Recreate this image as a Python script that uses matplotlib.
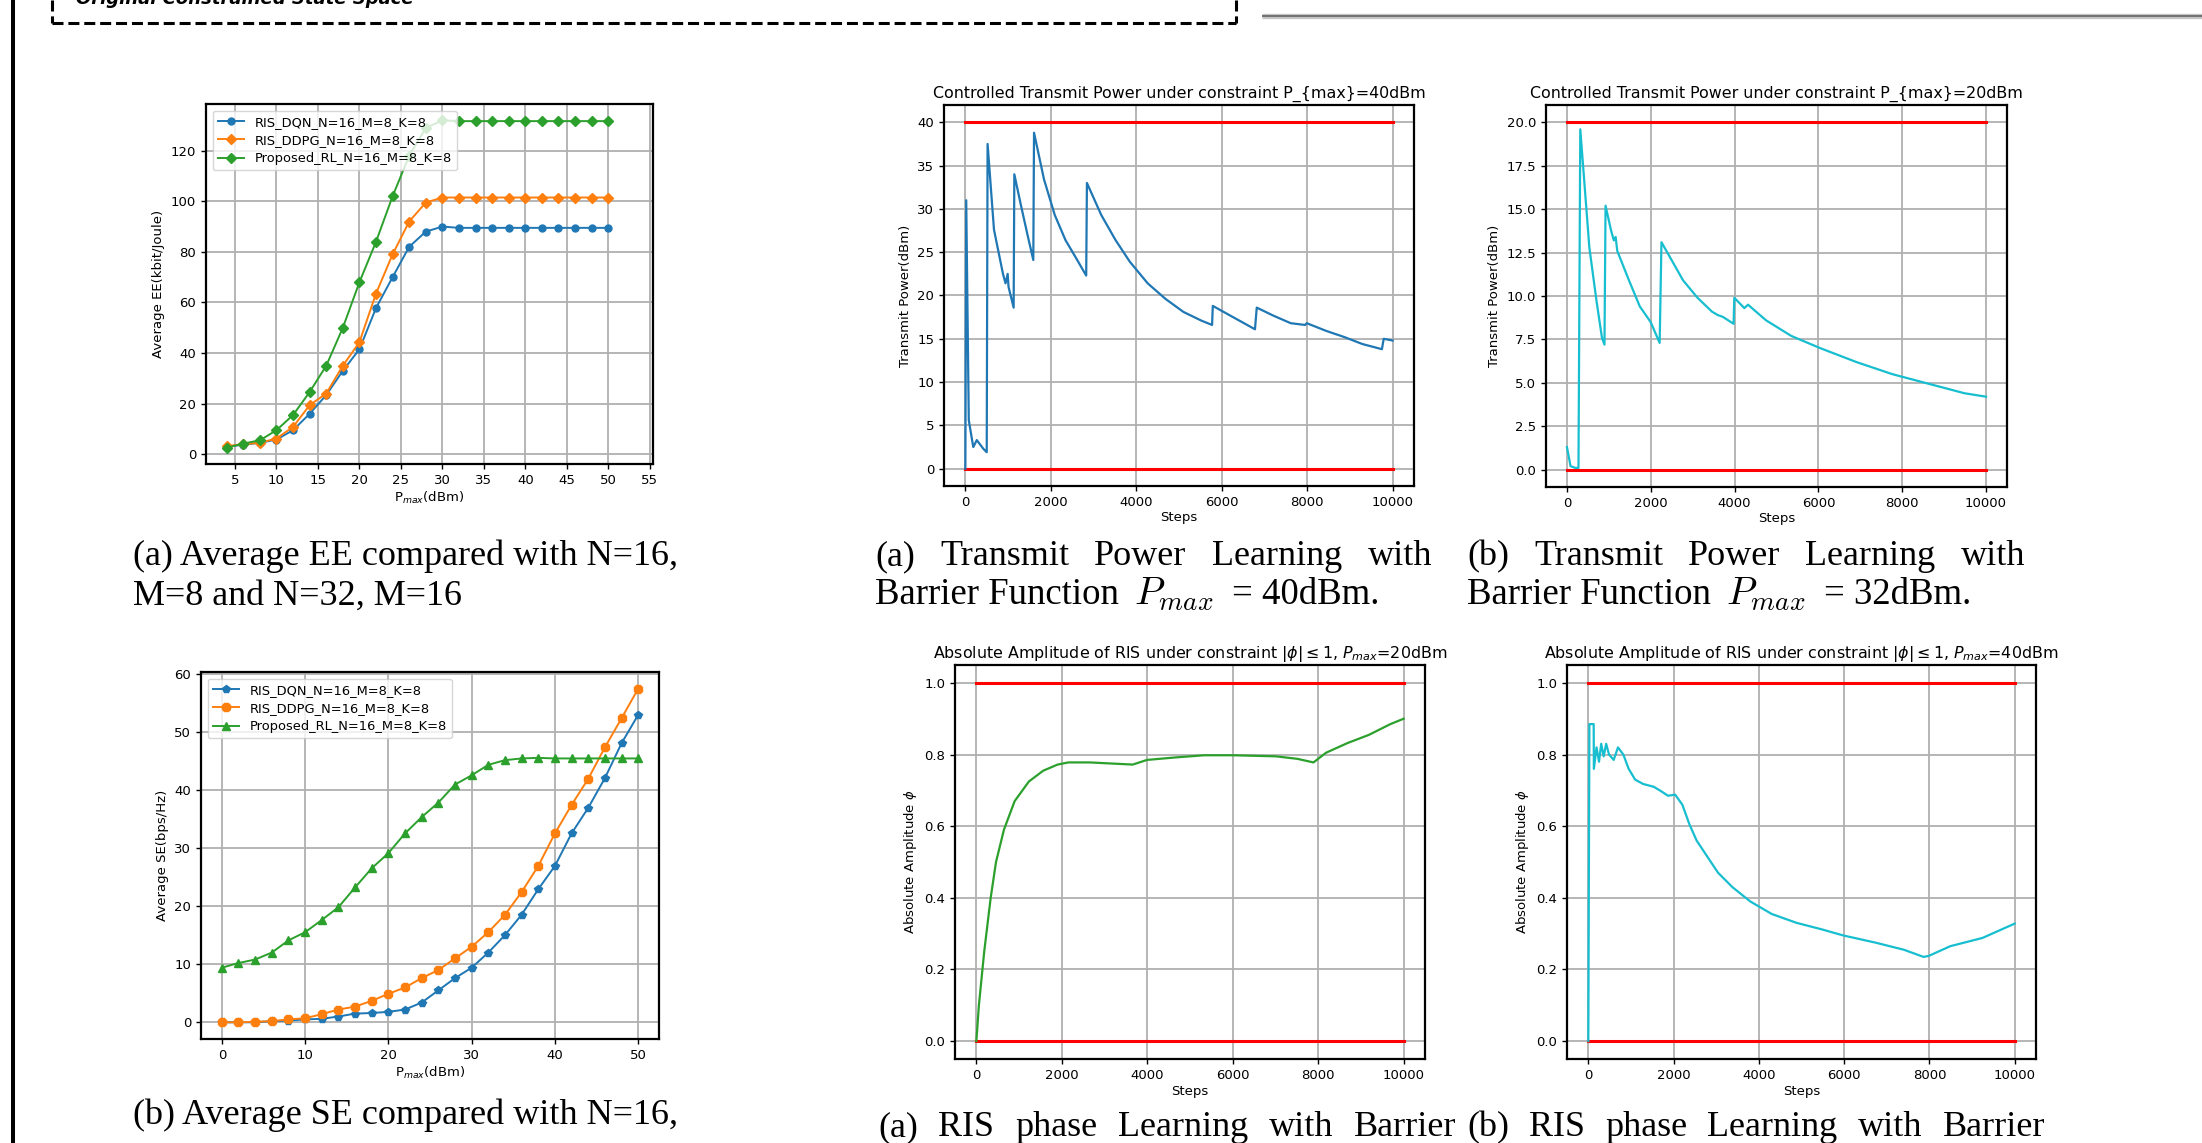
import matplotlib
matplotlib.use("Agg")
import matplotlib.pyplot as plt
from matplotlib.lines import Line2D
from matplotlib.transforms import IdentityTransform

# ---------------- data ----------------
ee_x = [4, 6, 8, 10, 12, 14, 16, 18, 20, 22, 24, 26, 28, 30, 32, 34, 36, 38, 40, 42, 44, 46, 48, 50]
ee_dqn = [2.9, 3.8, 4.5, 5.8, 9.5, 16, 23.4, 33, 41.5, 57.8, 70, 82, 88, 90, 89.5, 89.5, 89.5, 89.5, 89.5, 89.5, 89.5, 89.5, 89.5, 89.5]
ee_ddpg = [3.2, 4.0, 4.5, 6.2, 10.8, 19.4, 24, 35, 44.3, 63.5, 79, 92, 99.5, 101.5, 101.5, 101.5, 101.5, 101.5, 101.5, 101.5, 101.5, 101.5, 101.5, 101.5]
ee_prop = [2.6, 4.2, 5.5, 9.5, 15.5, 24.6, 35, 50, 68, 84, 102, 118, 129, 132, 131.7, 131.7, 131.7, 131.7, 131.7, 131.7, 131.7, 131.7, 131.7, 131.7]

se_x = [0, 2, 4, 6, 8, 10, 12, 14, 16, 18, 20, 22, 24, 26, 28, 30, 32, 34, 36, 38, 40, 42, 44, 46, 48, 50]
se_dqn = [0, 0, 0, 0.2, 0.3, 0.5, 0.6, 1.0, 1.5, 1.6, 1.8, 2.2, 3.4, 5.5, 7.6, 9.4, 12.0, 15.0, 18.5, 22.9, 26.9, 32.5, 36.9, 42.0, 48.0, 52.9]
se_ddpg = [0, 0, 0.1, 0.2, 0.5, 0.7, 1.4, 2.2, 2.7, 3.7, 4.9, 6.0, 7.6, 9.0, 11.0, 13.0, 15.5, 18.5, 22.4, 26.9, 32.5, 37.4, 41.9, 47.3, 52.3, 57.4]
se_prop = [9.4, 10.2, 10.8, 12.0, 14.1, 15.5, 17.6, 19.8, 23.2, 26.5, 29.1, 32.5, 35.3, 37.8, 40.9, 42.5, 44.3, 45.1, 45.4, 45.5, 45.4, 45.4, 45.4, 45.4, 45.4, 45.4]

legend_labels = ["RIS_DQN_N=16_M=8_K=8", "RIS_DDPG_N=16_M=8_K=8", "Proposed_RL_N=16_M=8_K=8"]

tp40_steps = [0, 20, 80, 185, 268, 420, 500, 520, 670, 880, 940, 990, 1010, 1130, 1146, 1297, 1464, 1590, 1607,
              1841, 2092, 2343, 2594, 2828, 2845, 3180, 3515, 3849, 4268, 4686, 5105, 5523, 5774, 5791, 6192,
              6778, 6820, 7197, 7615, 7950, 7990, 8452, 8870, 9289, 9749, 9791, 10000]
tp40_power = [0, 31, 5.6, 2.5, 3.3, 2.3, 1.9, 37.5, 27.6, 22.5, 21.4, 22.5, 21.0, 18.6, 34, 30.5, 26.8, 24.1, 38.8,
              33.4, 29.3, 26.4, 24.3, 22.3, 33, 29.3, 26.4, 23.9, 21.4, 19.6, 18.1, 17.1, 16.6, 18.8, 17.7,
              16.1, 18.6, 17.7, 16.8, 16.6, 16.8, 15.9, 15.2, 14.4, 13.8, 15.0, 14.8]

tp20_steps = [0, 86, 200, 275, 318, 404, 534, 706, 835, 895, 921, 1050, 1119, 1162, 1200, 1480, 1738, 1997, 2212,
              2255, 2513, 2771, 3115, 3460, 3600, 3718, 3976, 3993, 4234, 4320, 4750, 5353, 6041, 6902, 7762,
              8623, 9484, 10000]
tp20_power = [1.3, 0.2, 0.1, 0.1, 19.6, 16.9, 12.8, 9.7, 7.6, 7.2, 15.2, 13.8, 13.2, 13.4, 12.6, 10.9, 9.4, 8.5, 7.3,
              13.1, 12.0, 10.9, 9.9, 9.1, 8.9, 8.8, 8.4, 9.9, 9.3, 9.5, 8.6, 7.7, 7.0, 6.2, 5.5,
              4.95, 4.4, 4.2]

ris20_steps = [0, 59, 184, 335, 460, 645, 896, 1231, 1566, 1901, 2152, 2655, 3158, 3660, 3995, 4665, 5335, 6005,
               7010, 7513, 7890, 8183, 8685, 9188, 9690, 10000]
ris20_amp = [0, 0.10, 0.25, 0.40, 0.50, 0.59, 0.67, 0.725, 0.755, 0.772, 0.778, 0.778, 0.775, 0.772, 0.785, 0.792,
             0.798, 0.798, 0.795, 0.788, 0.778, 0.805, 0.832, 0.855, 0.885, 0.90]

ris40_steps = [0, 25, 126, 130, 193, 251, 302, 360, 419, 486, 595, 696, 821, 947, 1098, 1282, 1534, 1702, 1869,
               2037, 2205, 2372, 2540, 2791, 3043, 3378, 3797, 4300, 4887, 5474, 5977, 6731, 7402, 7863, 7988,
               8491, 9245, 10000]
ris40_amp = [0, 0.885, 0.885, 0.76, 0.82, 0.78, 0.83, 0.795, 0.83, 0.80, 0.785, 0.82, 0.80, 0.76, 0.73, 0.718,
             0.71, 0.698, 0.685, 0.688, 0.66, 0.605, 0.56, 0.515, 0.47, 0.43, 0.39, 0.355, 0.33, 0.312, 0.295,
             0.275, 0.255, 0.235, 0.238, 0.265, 0.288, 0.328]

step_ticks = [0, 2000, 4000, 6000, 8000, 10000]
ee_xticks = [5, 10, 15, 20, 25, 30, 35, 40, 45, 50, 55]
ee_yticks = [0, 20, 40, 60, 80, 100, 120]
tp40_yticks = [0, 5, 10, 15, 20, 25, 30, 35, 40]
tp20_yticks = [0, 2.5, 5.0, 7.5, 10.0, 12.5, 15.0, 17.5, 20.0]
amp_yticks = [0, 0.2, 0.4, 0.6, 0.8, 1.0]
step_range = [0, 10000]

# ---------------- figure ----------------
W, H = 2202, 1143
fig = plt.figure(figsize=(W / 100, H / 100), dpi=100)
fig.patch.set_facecolor("white")

BLUE, ORANGE, GREEN, CYAN = "#1f77b4", "#ff7f0e", "#2ca02c", "#17becf"
TICK_FS, LAB_FS, TITLE_FS, LEG_FS = 9.5, 9.5, 11.4, 9.4


def box(l, t, r, b):
    return [l / W, 1 - b / H, (r - l) / W, (b - t) / H]


def style(ax):
    ax.grid(True, color="#b0b0b0", lw=1.3)
    ax.set_axisbelow(True)
    for s in ax.spines.values():
        s.set_linewidth(1.6)
    ax.tick_params(labelsize=TICK_FS, width=1.0, length=3.5)


# EE plot
ax = fig.add_axes(box(206, 104, 653, 464))
ax.plot(ee_x, ee_dqn, color=BLUE, marker="o", ms=5, lw=1.4, label=legend_labels[0])
ax.plot(ee_x, ee_ddpg, color=ORANGE, marker="D", ms=5.5, lw=1.4, label=legend_labels[1])
ax.plot(ee_x, ee_prop, color=GREEN, marker="D", ms=5.5, lw=1.4, label=legend_labels[2])
ax.set_xlim(1.5, 55.4)
ax.set_xticks(ee_xticks)
ax.set_yticks(ee_yticks)
ax.set_ylabel("Average EE(kbit/Joule)", fontsize=LAB_FS)
ax.set_xlabel(r"P$_{max}$(dBm)", fontsize=LAB_FS, labelpad=2)
style(ax)
ax.legend(loc="upper left", fontsize=LEG_FS, framealpha=0.8, borderpad=0.4, labelspacing=0.4)

# SE plot
ax = fig.add_axes(box(201, 672, 659, 1039))
ax.plot(se_x, se_dqn, color=BLUE, marker="p", ms=5.5, lw=1.4, label=legend_labels[0])
ax.plot(se_x, se_ddpg, color=ORANGE, marker="8", ms=7, lw=1.4, label=legend_labels[1])
ax.plot(se_x, se_prop, color=GREEN, marker="^", ms=5.5, lw=1.4, label=legend_labels[2])
ax.set_ylabel("Average SE(bps/Hz)", fontsize=LAB_FS)
ax.set_xlabel(r"P$_{max}$(dBm)", fontsize=LAB_FS, labelpad=2)
style(ax)
ax.legend(loc="upper left", fontsize=LEG_FS, framealpha=0.8, borderpad=0.4, labelspacing=0.4)


def trace_ax(rect, steps, vals, color, bounds, yticks, title, ylabel):
    ax = fig.add_axes(box(*rect))
    for bnd in bounds:
        ax.plot(step_range, [bnd, bnd], color="red", lw=2.2, zorder=3)
    ax.plot(steps, vals, color=color, lw=1.6, zorder=4)
    ax.set_xticks(step_ticks)
    ax.set_yticks(yticks)
    ax.set_title(title, fontsize=TITLE_FS, pad=5)
    ax.set_ylabel(ylabel, fontsize=LAB_FS)
    ax.set_xlabel("Steps", fontsize=LAB_FS, labelpad=2)
    style(ax)
    return ax


trace_ax((944, 105, 1414, 486), tp40_steps, tp40_power, BLUE, [0, 40], tp40_yticks,
         "Controlled Transmit Power under constraint P_{max}=40dBm", "Transmit Power(dBm)")
a = trace_ax((1546, 105, 2007, 487), tp20_steps, tp20_power, CYAN, [0, 20], tp20_yticks,
             "Controlled Transmit Power under constraint P_{max}=20dBm", "Transmit Power(dBm)")
a.yaxis.set_major_formatter(matplotlib.ticker.FormatStrFormatter("%.1f"))
a = trace_ax((955, 665, 1425, 1059), ris20_steps, ris20_amp, GREEN, [0, 1], amp_yticks,
             r"Absolute Amplitude of RIS under constraint $|\phi| \leq 1$, $P_{max}$=20dBm",
             r"Absolute Amplitude $\phi$")
a.yaxis.set_major_formatter(matplotlib.ticker.FormatStrFormatter("%.1f"))
a = trace_ax((1567, 665, 2036, 1059), ris40_steps, ris40_amp, CYAN, [0, 1], amp_yticks,
             r"Absolute Amplitude of RIS under constraint $|\phi| \leq 1$, $P_{max}$=40dBm",
             r"Absolute Amplitude $\phi$")
a.yaxis.set_major_formatter(matplotlib.ticker.FormatStrFormatter("%.1f"))

# ---------------- page decorations ----------------
IT = IdentityTransform()


def pline(xs, ys, **kw):
    fig.add_artist(Line2D(xs, [H - y for y in ys], transform=IT, **kw))


pline([13, 13], [0, H], color="black", lw=2.9, solid_capstyle="butt")
dash = dict(color="black", lw=2.2, linestyle=(0, (3.6, 1.6)))
pline([52, 52], [0, 23], **dash)
pline([52, 1236], [23, 23], **dash)
pline([1236, 1236], [0, 23], **dash)
pline([1262, W], [16, 16], color="#c4c4c4", lw=3.8, solid_capstyle="butt")
pline([1262, W], [16, 16], color="#707070", lw=1.4, solid_capstyle="butt")
fig.text(76, H - 4, "Original Constrained State Space", transform=IT, fontsize=13,
         fontstyle="italic", fontweight="bold", va="baseline", ha="left")

CAP = dict(family="Liberation Serif", fontsize=26, va="baseline", ha="left",
           transform=IT, math_fontfamily="cm")
renderer = fig.canvas.get_renderer()


def caption(text, x0, y, x1=None):
    if x1 is None:
        fig.text(x0, H - y, text, **CAP)
        return
    words = text.split(" ")
    ts = [fig.text(0, H - y, w, **CAP) for w in words]
    widths = [t.get_window_extent(renderer).width for t in ts]
    gap = (x1 - x0 - sum(widths)) / (len(words) - 1)
    x = x0
    for t, w in zip(ts, widths):
        t.set_x(x)
        x += w + gap


def caption_parts(parts, y):
    for txt, x, fs in parts:
        kw = dict(CAP)
        kw["fontsize"] = fs
        fig.text(x, H - y, txt, **kw)


caption("(a) Average EE compared with N=16,", 133, 565)
caption("M=8 and N=32, M=16", 133, 605)
caption("(a) Transmit Power Learning with", 875, 565, 1432)
caption_parts([("Barrier Function", 875, 26.5), (r"$P_{max}$", 1134, 28), ("= 40dBm.", 1232, 26.5)], 604)
caption("(b) Transmit Power Learning with", 1467, 565, 2025)
caption_parts([("Barrier Function", 1467, 26.5), (r"$P_{max}$", 1726, 28), ("= 32dBm.", 1824, 26.5)], 604)
caption("(b) Average SE compared with N=16,", 133, 1124)
caption("(a) RIS phase Learning with Barrier", 878, 1136, 1456)
caption("(b) RIS phase Learning with Barrier", 1467, 1136, 2045)

fig.savefig("out.png", dpi=100, facecolor="white")
